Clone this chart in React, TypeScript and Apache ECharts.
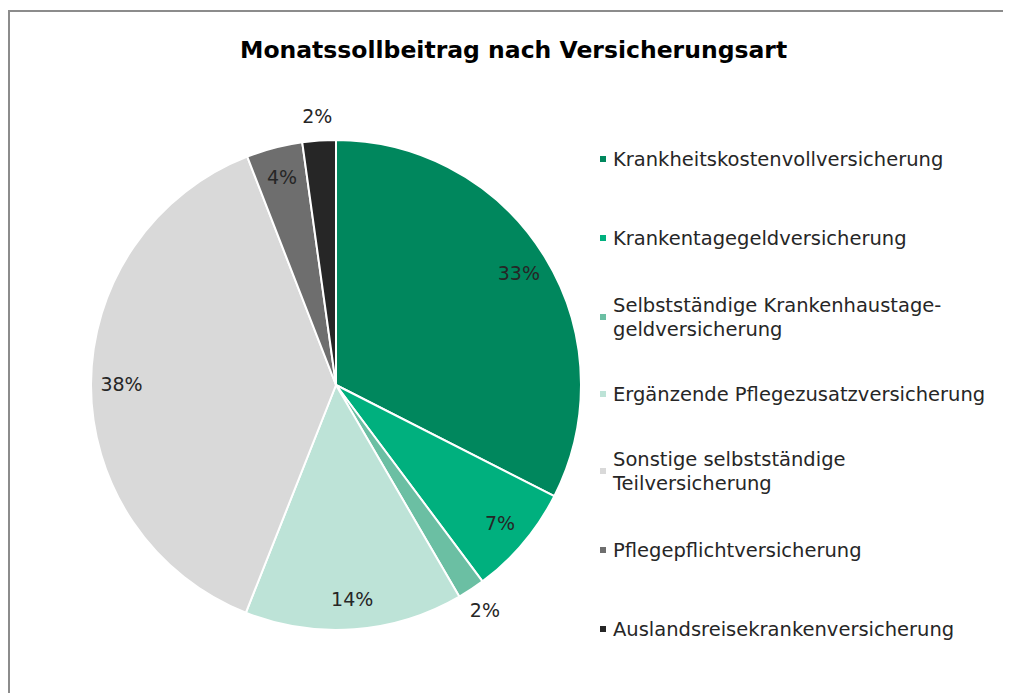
import React, { useEffect, useRef } from "react";
import * as echarts from "echarts";

const TITLE = "Monatssollbeitrag nach Versicherungsart";
const categories = [
  "Krankheitskostenvollversicherung",
  "Krankentagegeldversicherung",
  "Selbstständige Krankenhaustage-\ngeldversicherung",
  "Ergänzende Pflegezusatzversicherung",
  "Sonstige selbstständige\nTeilversicherung",
  "Pflegepflichtversicherung",
  "Auslandsreisekrankenversicherung",
];
const values = [32.5, 7.3, 1.8, 14.4, 38.1, 3.7, 2.2];
const colors = ["#00875D", "#00B07E", "#6BBFA3", "#BDE3D7", "#D9D9D9", "#6E6E6E", "#262626"];
// which labels sit outside the pie
const outsideLabel = [false, false, true, false, false, false, true];
// legend slot (chart y of first-line centre)
const legendCenters = [151, 230, 309, 386, 463, 542, 621];

const FONT = '"DejaVu Sans", sans-serif';

export default function App() {
  const ref = useRef<HTMLDivElement>(null);
  useEffect(() => {
    if (!ref.current) return;
    const chart = echarts.init(ref.current, undefined, { renderer: "svg" });
    const fmt = (p: any) => Math.round(p.percent) + "%";
    const labelStyle = { fontFamily: FONT, fontSize: 19, color: "#262626" };

    const legends = categories.map((name, i) => {
      const twoLine = name.includes("\n");
      const lh = 24;
      const top = twoLine ? legendCenters[i] - 36 : legendCenters[i] - 12;
      return {
        data: [name],
        orient: "vertical",
        left: 590,
        top,
        padding: 0,
        icon: "rect",
        itemWidth: 8,
        itemHeight: 8,
        selectedMode: false,
        textStyle: {
          fontFamily: FONT,
          fontSize: 19.5,
          color: "#262626",
          lineHeight: lh,
          padding: twoLine ? [lh, 0, 0, 1] : [0, 0, 0, 1],
        },
      };
    });

    chart.setOption({
      animation: false,
      backgroundColor: "#ffffff",
      title: {
        text: TITLE,
        left: 232,
        top: 30,
        padding: 0,
        textStyle: { fontFamily: FONT, fontSize: 23.5, fontWeight: "bold", color: "#000000" },
      },
      graphic: [
        {
          type: "rect",
          shape: { x: 1, y: 3, width: 1100, height: 800 },
          style: { fill: "none", stroke: "#8c8c8c", lineWidth: 2 },
          silent: true,
          z: -10,
        },
      ],
      legend: legends,
      series: [
        {
          type: "pie",
          center: [328, 377],
          radius: 245,
          startAngle: 90,
          clockwise: true,
          silent: true,
          label: { show: false },
          labelLine: { show: false },
          itemStyle: { borderColor: "#ffffff", borderWidth: 2 },
          data: categories.map((name, i) => ({
            name,
            value: values[i],
            itemStyle: { color: colors[i] },
          })),
        },
        {
          type: "pie",
          center: [328, 377],
          radius: [178, 245],
          startAngle: 90,
          silent: true,
          avoidLabelOverlap: false,
          labelLine: { show: false },
          itemStyle: { color: "rgba(0,0,0,0)" },
          data: categories.map((name, i) => ({
            name,
            value: values[i],
            label: { show: !outsideLabel[i], position: "inside", formatter: fmt, ...labelStyle },
          })),
        },
        {
          type: "pie",
          center: [328, 377],
          radius: [245, 289],
          startAngle: 90,
          silent: true,
          avoidLabelOverlap: false,
          labelLine: { show: false },
          itemStyle: { color: "rgba(0,0,0,0)" },
          data: categories.map((name, i) => ({
            name,
            value: values[i],
            label: { show: outsideLabel[i], position: "inside", formatter: fmt, ...labelStyle },
          })),
        },
      ],
    });
    return () => chart.dispose();
  }, []);
  return <div ref={ref} style={{ width: 1003, height: 685 }} />;
}
